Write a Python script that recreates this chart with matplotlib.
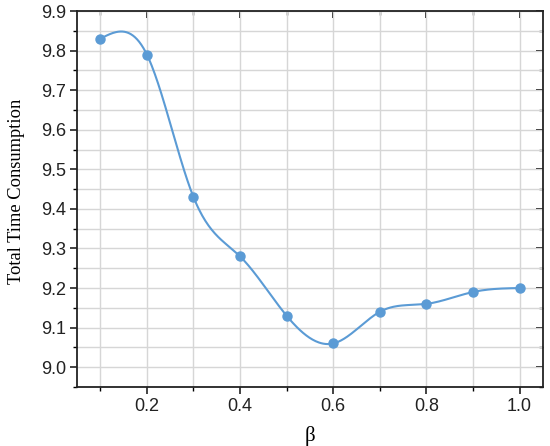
import numpy as np
import matplotlib
matplotlib.use("Agg")
import matplotlib.pyplot as plt
from matplotlib.ticker import MultipleLocator

# data
beta = [0.1, 0.2, 0.3, 0.4, 0.5, 0.6, 0.7, 0.8, 0.9, 1.0]
total_time = [9.83, 9.79, 9.43, 9.28, 9.13, 9.06, 9.14, 9.16, 9.19, 9.20]

line_color = "#5b9bd5"


def natural_spline(x, y, n=400):
    # natural cubic spline through the points, for the smooth line
    x = np.asarray(x, float)
    y = np.asarray(y, float)
    k = len(x)
    h = np.diff(x)
    A = np.zeros((k, k))
    r = np.zeros(k)
    A[0, 0] = A[-1, -1] = 1.0
    for i in range(1, k - 1):
        A[i, i - 1] = h[i - 1]
        A[i, i] = 2 * (h[i - 1] + h[i])
        A[i, i + 1] = h[i]
        r[i] = 6 * ((y[i + 1] - y[i]) / h[i] - (y[i] - y[i - 1]) / h[i - 1])
    m = np.linalg.solve(A, r)
    xs = np.linspace(x[0], x[-1], n)
    idx = np.clip(np.searchsorted(x, xs) - 1, 0, k - 2)
    t0 = x[idx + 1] - xs
    t1 = xs - x[idx]
    hi = h[idx]
    ys = (m[idx] * t0**3 + m[idx + 1] * t1**3) / (6 * hi) \
        + (y[idx] / hi - m[idx] * hi / 6) * t0 \
        + (y[idx + 1] / hi - m[idx + 1] * hi / 6) * t1
    return xs, ys


fig = plt.figure(figsize=(5.5, 4.46), dpi=100)
ax = fig.add_axes([0.14, 0.1323, 0.847, 0.843])

xs, ys = natural_spline(beta, total_time)
ax.plot(xs, ys, color=line_color, lw=1.5, zorder=3)
ax.plot(beta, total_time, "o", color=line_color, ms=6.5, zorder=4)

ax.set_xlim(0.05, 1.05)
ax.set_ylim(8.95, 9.9)
ax.xaxis.set_major_locator(MultipleLocator(0.2))
ax.xaxis.set_minor_locator(MultipleLocator(0.1))
ax.yaxis.set_major_locator(MultipleLocator(0.1))
ax.yaxis.set_minor_locator(MultipleLocator(0.05))
ax.xaxis.set_major_formatter(plt.FormatStrFormatter("%.1f"))
ax.yaxis.set_major_formatter(plt.FormatStrFormatter("%.1f"))

ax.grid(True, which="both", color="#d6d6d6", lw=1.0, zorder=0)
ax.set_axisbelow(True)

for s in ax.spines.values():
    s.set_linewidth(1.3)
    s.set_color("#222222")

ax.tick_params(which="major", direction="out", length=5, width=1.2,
               labelsize=13, colors="#222222", pad=3)
ax.tick_params(which="minor", direction="out", length=3, width=1.0)
for lbl in ax.get_xticklabels() + ax.get_yticklabels():
    lbl.set_family("Liberation Sans")

# mirrored ticks on top and right, pointing inward
top = ax.secondary_xaxis("top")
top.xaxis.set_major_locator(MultipleLocator(0.2))
top.xaxis.set_minor_locator(MultipleLocator(0.1))
top.tick_params(which="major", direction="in", length=5, width=1.2, labeltop=False)
top.tick_params(which="minor", direction="in", length=3, width=1.0)
top.spines["top"].set_visible(False)
right = ax.secondary_yaxis("right")
right.yaxis.set_major_locator(MultipleLocator(0.1))
right.yaxis.set_minor_locator(MultipleLocator(0.05))
right.tick_params(which="major", direction="in", length=5, width=1.2, labelright=False)
right.tick_params(which="minor", direction="in", length=3, width=1.0)
right.spines["right"].set_visible(False)

ax.set_xlabel("β", fontsize=15, family="Liberation Serif", labelpad=8)
ax.set_ylabel("Total Time Consumption", fontsize=13.3, family="Liberation Serif")
ax.yaxis.set_label_coords(-0.112, 0.52)

fig.savefig("out.png", dpi=100)
